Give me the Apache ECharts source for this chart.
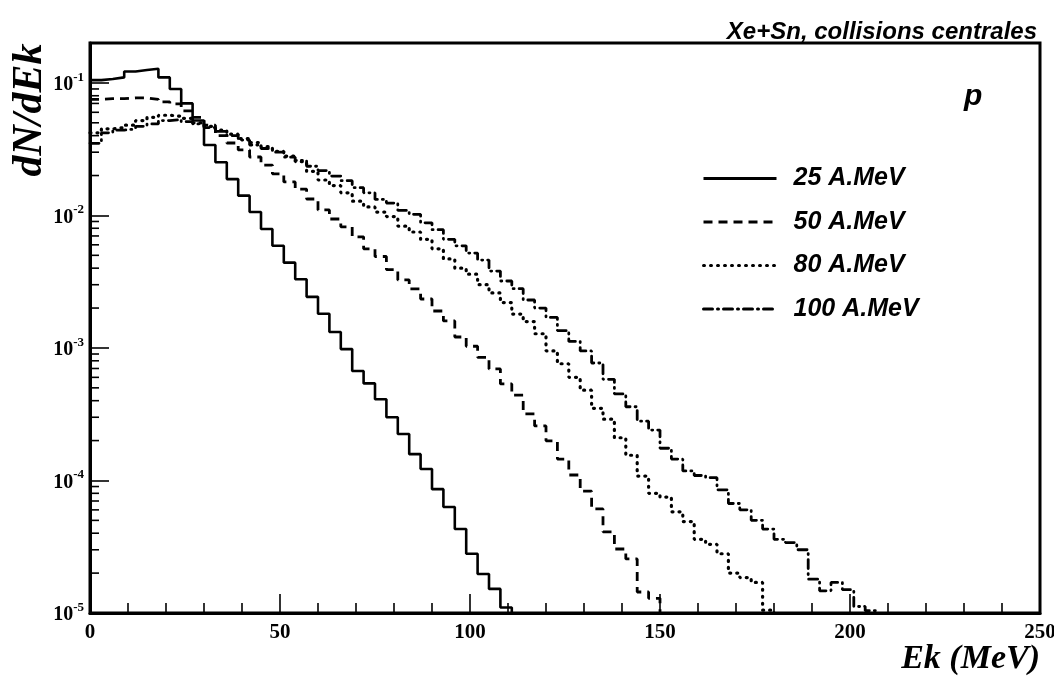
<!DOCTYPE html>
<html>
<head>
<meta charset="utf-8">
<script src="https://cdn.jsdelivr.net/npm/echarts@6/dist/echarts.min.js"></script>
<style>
html,body{margin:0;padding:0;background:#fff;}
#chart{width:1054px;height:679px;}
</style>
</head>
<body>
<div id="chart"></div>
<script>
// ---- data (histograms, bin width in MeV, values per bin starting at 0 MeV) ----
const binWidth = 3;
const names = ['25 A.MeV', '50 A.MeV', '80 A.MeV', '100 A.MeV'];
const xTicks = [0, 50, 100, 150, 200, 250];
const yDecades = [-5, -4, -3, -2, -1];
const yMinorMultipliers = [2, 3, 4, 5, 6, 7, 8, 9];

const h25 = [0.105, 0.107, 0.11, 0.122, 0.125, 0.128, 0.11, 0.09, 0.07, 0.052,
  0.034, 0.0252, 0.0188, 0.0141, 0.0106, 0.0079, 0.0059, 0.0044, 0.0033, 0.00243,
  0.00181, 0.00132, 0.00098, 0.00067, 0.00054, 0.00041, 0.0003, 0.000224, 0.000158, 0.000122,
  8.6e-5, 6.3e-5, 4.3e-5, 2.8e-5, 1.97e-5, 1.52e-5, 1.1e-5];

const h50 = [0.075, 0.076, 0.076, 0.077, 0.077, 0.075, 0.072, 0.0695, 0.0615, 0.055,
  0.048, 0.040, 0.0352, 0.0312, 0.0276, 0.024, 0.0206, 0.0179, 0.0158, 0.0133,
  0.011, 0.0094, 0.0082, 0.0069, 0.0056, 0.0049, 0.0039, 0.00326, 0.00279, 0.00234,
  0.0019, 0.0016, 0.00121, 0.00103, 0.00085, 0.000695, 0.000535, 0.00044, 0.000318, 0.000258,
  0.000199, 0.000145, 0.00011, 8.3e-5, 6.1e-5, 4.1e-5, 3.04e-5, 2.56e-5, 1.44e-5, 1.29e-5];

const h80 = [0.042, 0.045, 0.046, 0.048, 0.052, 0.055, 0.057, 0.056, 0.054, 0.05,
  0.047, 0.044, 0.041, 0.038, 0.0355, 0.033, 0.0305, 0.028, 0.0255, 0.0215,
  0.0185, 0.0168, 0.0148, 0.0128, 0.0116, 0.0106, 0.0098, 0.0083, 0.0075, 0.0066,
  0.0056, 0.0047, 0.0040, 0.0036, 0.0030, 0.0026, 0.0022, 0.0018, 0.00158, 0.00128,
  0.00095, 0.00076, 0.00060, 0.00048, 0.00035, 0.00029, 0.00021, 0.000155, 0.000108, 8.0e-5,
  7.5e-5, 5.8e-5, 4.9e-5, 3.6e-5, 3.3e-5, 2.8e-5, 2.0e-5, 1.85e-5, 1.7e-5, 1.05e-5];

const h100 = [0.035, 0.042, 0.044, 0.045, 0.047, 0.049, 0.052, 0.053, 0.051, 0.049,
  0.046, 0.043, 0.040, 0.037, 0.034, 0.032, 0.030, 0.0275, 0.026, 0.0235,
  0.0218, 0.0198, 0.0183, 0.0162, 0.0148, 0.0132, 0.0124, 0.0109, 0.0102, 0.0088,
  0.0078, 0.0066, 0.0059, 0.0052, 0.0046, 0.0038, 0.0032, 0.0028, 0.0023, 0.002,
  0.0017, 0.00135, 0.00112, 0.00095, 0.00077, 0.00058, 0.00045, 0.00036, 0.00028, 0.00024,
  0.000175, 0.000145, 0.000118, 0.000109, 0.000105, 8.5e-5, 6.7e-5, 6.0e-5, 5.0e-5, 4.3e-5,
  3.6e-5, 3.4e-5, 3.0e-5, 1.8e-5, 1.47e-5, 1.7e-5, 1.5e-5, 1.12e-5, 1.04e-5];

// ---- build step-histogram points ----
function histPoints(vals) {
  const pts = vals.map((v, i) => [i * binWidth, v]);
  const end = vals.length * binWidth;
  pts.push([end, vals[vals.length - 1]]);
  pts.push([end, 1e-9]); // drop to below the axis (clipped)
  return pts;
}

const minorY = [];
yDecades.forEach(d => yMinorMultipliers.forEach(m => {
  const v = m * Math.pow(10, d);
  if (v < 0.2) minorY.push([0, v]);
}));

const serifBold = 'Liberation Serif';
const sansBI = 'Liberation Sans';

const styles = [
  { type: 'solid', width: 2.6, cap: 'butt' },
  { type: [9, 6], width: 2.8, cap: 'butt' },
  { type: [1, 6], width: 3.2, cap: 'round' },
  { type: [9, 5, 1, 5], width: 2.8, cap: 'round' }
];
const datasets = [h25, h50, h80, h100];

const chart = echarts.init(document.getElementById('chart'), null, { renderer: 'canvas' });

const series = datasets.map((d, i) => ({
  name: names[i],
  type: 'line',
  step: 'end',
  symbol: 'circle',
  showSymbol: false,
  data: histPoints(d),
  lineStyle: { color: '#000', width: styles[i].width, type: styles[i].type, cap: styles[i].cap },
  itemStyle: { color: 'rgba(0,0,0,0)', borderWidth: 0 },
  clip: true,
  z: 3
}));

series.push({
  type: 'custom',
  name: 'minorTicks',
  coordinateSystem: 'cartesian2d',
  silent: true,
  clip: false,
  z: 6,
  data: minorY,
  renderItem: function (params, api) {
    const p = api.coord([0, api.value(1)]);
    return {
      type: 'line',
      shape: { x1: p[0], y1: p[1], x2: p[0] + 9, y2: p[1] },
      style: { stroke: '#000', lineWidth: 1.6 }
    };
  }
});

const option = {
  backgroundColor: '#ffffff',
  animation: false,
  title: {
    text: 'Xe+Sn, collisions centrales',
    right: 12,
    top: 15,
    textStyle: { fontFamily: sansBI, fontStyle: 'italic', fontWeight: 'bold', fontSize: 24, color: '#000' }
  },
  grid: {
    left: 90, right: 14, top: 43, bottom: 66,
    outerBoundsMode: 'none',
    containLabel: false,
    show: true, borderColor: '#000', borderWidth: 3, backgroundColor: 'transparent'
  },
  legend: {
    data: names,
    orient: 'vertical',
    left: 697,
    top: 161,
    itemWidth: 73,
    itemHeight: 14,
    itemGap: 18.5,
    lineStyle: { width: 3 },
    textStyle: { fontFamily: sansBI, fontStyle: 'italic', fontWeight: 'bold', fontSize: 25, color: '#000', padding: [0, 0, 0, 12] },
    selectedMode: false
  },
  xAxis: {
    type: 'value',
    min: 0, max: 250, interval: 50,
    axisLine: { show: true, lineStyle: { color: '#000', width: 3 } },
    axisTick: { show: true, inside: true, length: 19, lineStyle: { color: '#000', width: 1.6 } },
    minorTick: { show: true, splitNumber: 5, length: 10, lineStyle: { color: '#000', width: 1.6 } },
    splitLine: { show: false },
    axisLabel: {
      margin: 9,
      fontFamily: serifBold, fontWeight: 'bold', fontSize: 21, color: '#000',
      formatter: function (v) { return xTicks.indexOf(v) >= 0 ? String(v) : ''; }
    }
  },
  yAxis: {
    type: 'log', logBase: 10,
    min: 1e-5, max: 0.2,
    axisLine: { show: true, lineStyle: { color: '#000', width: 3 } },
    axisTick: { show: true, inside: true, length: 19, lineStyle: { color: '#000', width: 1.6 } },
    minorTick: { show: false },
    splitLine: { show: false },
    axisLabel: {
      margin: 6,
      color: '#000',
      formatter: function (v) {
        const l = Math.log10(v);
        const e = Math.round(l);
        if (Math.abs(l - e) > 1e-6 || yDecades.indexOf(e) < 0) return '';
        return '{b|10}{s|' + e + '}';
      },
      rich: {
        b: { fontFamily: serifBold, fontWeight: 'bold', fontSize: 20, color: '#000', lineHeight: 24, verticalAlign: 'bottom' },
        s: { fontFamily: serifBold, fontWeight: 'bold', fontSize: 13, color: '#000', lineHeight: 24, verticalAlign: 'top' }
      }
    }
  },
  graphic: [
    {
      type: 'text', left: 964, top: 82,
      style: { text: 'p', fontFamily: sansBI, fontStyle: 'italic', fontWeight: 'bold', fontSize: 30, fill: '#000' }
    },
    {
      type: 'text',
      x: 30, y: 110,
      rotation: Math.PI / 2,
      style: { text: 'dN/dEk', fontFamily: serifBold, fontStyle: 'italic', fontWeight: 'bold', fontSize: 42, fill: '#000', align: 'center', verticalAlign: 'middle' }
    },
    {
      type: 'text',
      x: 1040, y: 659,
      style: { text: 'Ek (MeV)', fontFamily: serifBold, fontStyle: 'italic', fontWeight: 'bold', fontSize: 34, fill: '#000', align: 'right', verticalAlign: 'middle' }
    }
  ],
  series: series
};

chart.setOption(option);
</script>
</body>
</html>
